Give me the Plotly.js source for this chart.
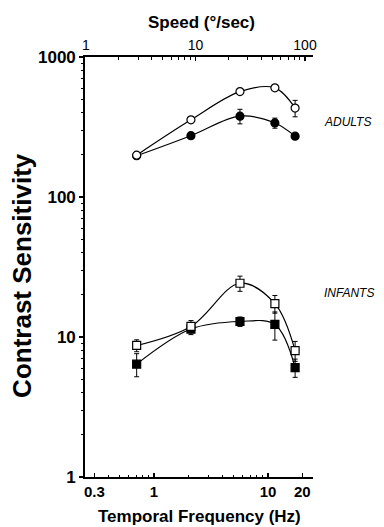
<!DOCTYPE html>
<html>
<head>
<meta charset="utf-8">
<script src="https://cdn.plot.ly/plotly-3.0.1.min.js"></script>
<style>
html,body{margin:0;padding:0;background:#fff;}
#chart{width:384px;height:527px;}
</style>
</head>
<body>
<div id="chart"></div>
<script>
// Temporal frequency (Hz) of each condition
const tempFreq = [0.705, 2.11, 5.68, 11.5, 17.3];

// Adults
const adultsOpen = [199, 356, 566, 602, 432];
const adultsOpenErr = [0, 0, 0, 0, 58];
const adultsFilled = [197, 274, 378, 338, 272];
const adultsFilledErr = [0, 0, 45, 28, 0];

// Infants
const infantsOpen = [8.7, 11.9, 24.2, 17.3, 8.0];
const infantsOpenErr = [0.85, 1.2, 3.0, 2.5, 1.3];
const infantsFilled = [6.4, 11.4, 12.9, 12.3, 6.05];
const infantsFilledErr = [1.2, 1.0, 1.0, 2.8, 0.9];

// Tick labels
const yTicks = [1, 10, 100, 1000];
const xTicks = [0.3, 1, 10, 20];
const xTickText = ['0.3', '1', '10', '20'];
const speedTicks = [1, 10, 100];

function series(y, err, symbol, fill) {
  return {
    x: tempFreq, y: y,
    type: 'scatter', mode: 'lines+markers',
    line: {color: '#000', width: 1.2, shape: 'spline', smoothing: 1},
    marker: {symbol: symbol, size: 8, color: fill,
             line: {color: '#000', width: 1.2}},
    error_y: {type: 'data', array: err, symmetric: true, color: '#000', thickness: 1, width: 2.5},
    showlegend: false, hoverinfo: 'x+y'
  };
}

const traces = [
  series(adultsFilled, adultsFilledErr, 'circle', '#000'),
  series(adultsOpen, adultsOpenErr, 'circle', '#fff'),
  series(infantsFilled, infantsFilledErr, 'square', '#000'),
  series(infantsOpen, infantsOpenErr, 'square', '#fff'),
  {x: [10], y: [null], xaxis: 'x2', yaxis: 'y', type: 'scatter', mode: 'markers',
   showlegend: false, hoverinfo: 'skip'}
];

const sans = 'Liberation Sans, Arial, sans-serif';

const layout = {
  width: 384, height: 527,
  margin: {l: 85, r: 71, t: 57, b: 50},
  paper_bgcolor: '#fff', plot_bgcolor: '#fff',
  font: {family: sans, color: '#000'},
  xaxis: {
    type: 'log', range: [-0.605, 1.395],
    tickmode: 'array', tickvals: xTicks, ticktext: xTickText,
    ticks: 'inside', ticklen: 4, tickwidth: 1.2, tickcolor: '#000',
    minor: {tickmode: 'array', tickvals: [0.4,0.5,0.6,0.7,0.8,0.9,2,3,4,5,6,7,8,9],
            ticks: 'inside', ticklen: 2.5, tickwidth: 1, tickcolor: '#000'},
    showline: true, linecolor: '#000', linewidth: 1.8,
    showgrid: false, zeroline: false,
    tickfont: {family: sans, size: 15, weight: 'bold'}
  },
  xaxis2: {
    type: 'log', range: [-0.009, 2.073], overlaying: 'x', side: 'top', anchor: 'y',
    tickmode: 'array', tickvals: speedTicks, ticktext: ['1', '10', '100'],
    ticks: 'inside', ticklen: 4, tickwidth: 1.2, tickcolor: '#000',
    minor: {tickmode: 'array', tickvals: [2,3,4,5,6,7,8,9,20,30,40,50,60,70,80,90],
            ticks: 'inside', ticklen: 2.5, tickwidth: 1, tickcolor: '#000'},
    showline: true, linecolor: '#000', linewidth: 1.8,
    showgrid: false, zeroline: false,
    tickfont: {family: sans, size: 14}
  },
  yaxis: {
    type: 'log', range: [0, 3],
    tickmode: 'array', tickvals: yTicks, ticktext: ['1', '10', '100', '1000'],
    ticks: 'outside', ticklen: 4, tickwidth: 1.2, tickcolor: '#000',
    minor: {tickmode: 'array', tickvals: [2,3,4,5,6,7,8,9,20,30,40,50,60,70,80,90,200,300,400,500,600,700,800,900],
            ticks: 'outside', ticklen: 2.5, tickwidth: 1, tickcolor: '#000'},
    showline: true, linecolor: '#000', linewidth: 1.8,
    showgrid: false, zeroline: false,
    tickfont: {family: sans, size: 17, weight: 'bold'}
  },
  annotations: [
    {text: 'Speed (°/sec)', xref: 'paper', yref: 'paper', x: 0.51, y: 1.083,
     xanchor: 'center', yanchor: 'middle', showarrow: false,
     font: {family: sans, size: 17, weight: 'bold'}},
    {text: 'Temporal Frequency (Hz)', xref: 'paper', yref: 'paper', x: 0.5, y: -0.093,
     xanchor: 'center', yanchor: 'middle', showarrow: false,
     font: {family: sans, size: 17, weight: 'bold'}},
    {text: 'Contrast Sensitivity', xref: 'paper', yref: 'paper', x: -0.276, y: 0.479,
     xanchor: 'center', yanchor: 'middle', textangle: -90, showarrow: false,
     font: {family: sans, size: 26, weight: 'bold'}},
    {text: 'ADULTS', xref: 'paper', yref: 'y', x: 1.04, y: Math.log10(345), xanchor: 'left', yanchor: 'middle',
     showarrow: false, font: {family: sans, size: 12, style: 'italic'}},
    {text: 'INFANTS', xref: 'paper', yref: 'y', x: 1.04, y: Math.log10(20.7), xanchor: 'left', yanchor: 'middle',
     showarrow: false, font: {family: sans, size: 12, style: 'italic'}}
  ]
};

Plotly.newPlot('chart', traces, layout, {displayModeBar: false, staticPlot: true});
</script>
</body>
</html>
